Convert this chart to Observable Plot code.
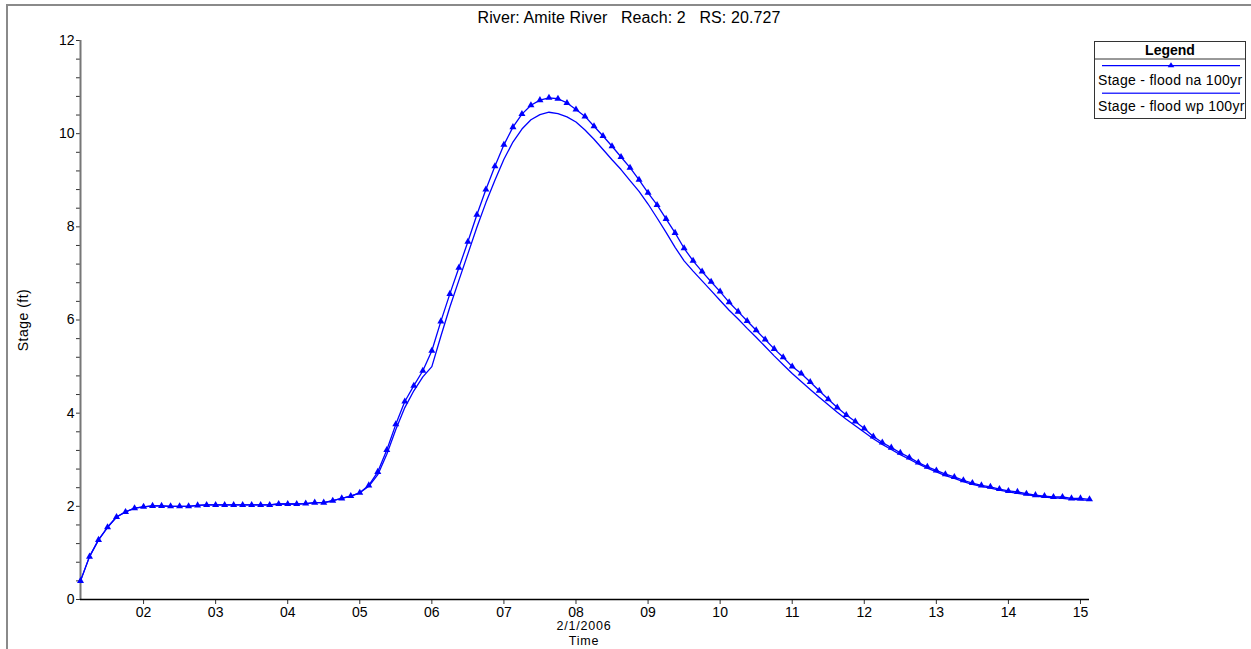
<!DOCTYPE html>
<html><head><meta charset="utf-8">
<script src="https://cdn.jsdelivr.net/npm/d3@7"></script>
<script src="https://cdn.jsdelivr.net/npm/@observablehq/plot@0.6"></script>
<style>
body{margin:0;background:#fff;font-family:"Liberation Sans",Arial,sans-serif;color:#000;}
#wrap{position:relative;width:1251px;height:649px;overflow:hidden;background:#fff;}
#frame{position:absolute;left:6px;top:4px;width:1300px;height:700px;border-top:2px solid #8a8a8a;border-left:2px solid #8a8a8a;}
#chart{position:absolute;left:0;top:0;}
#title{position:absolute;left:329px;width:600px;top:10px;text-align:center;font-size:16px;line-height:16px;letter-spacing:0.1px;white-space:pre;}
.xl{position:absolute;left:484px;width:200px;text-align:center;font-size:12.5px;line-height:14px;letter-spacing:0.8px;}
#ylab{position:absolute;left:23px;top:320px;font-size:14px;line-height:14px;letter-spacing:0.5px;white-space:pre;transform:translate(-50%,-50%) rotate(-90deg);}
#legend{position:absolute;left:1094px;top:41px;}
</style>
</head><body>
<div id="wrap">
  <div id="frame"></div>
  <div id="chart"></div>
  <div id="title">River: Amite River   Reach: 2   RS: 20.727</div>
  <div class="xl" style="top:619px">2/1/2006</div>
  <div class="xl" style="top:633.5px">Time</div>
  <div id="ylab">Stage (ft)</div>
  <svg id="legend" width="153" height="79" font-family="Liberation Sans, Arial, sans-serif">
    <defs><clipPath id="lc"><rect x="0" y="0" width="151" height="78"/></clipPath></defs>
    <rect x="0.5" y="0.5" width="151" height="77" fill="#fff" stroke="#333" stroke-width="1"/>
    <text x="76" y="13.5" text-anchor="middle" font-size="14" font-weight="bold">Legend</text>
    <line x1="0.5" x2="151.5" y1="18" y2="18" stroke="#333"/>
    <line x1="8" x2="146" y1="24.7" y2="24.7" stroke="#0000ff" stroke-width="1.3"/>
    <path d="M77,21.3 L80.3,26.3 L73.7,26.3 Z" fill="#0000ff"/>
    <g clip-path="url(#lc)">
      <text x="4" y="43.5" font-size="14" letter-spacing="0.3">Stage - flood na 100yr</text>
      <text x="4" y="70" font-size="14" letter-spacing="0.3">Stage - flood wp 100yr</text>
    </g>
    <line x1="8" x2="146" y1="52.3" y2="52.3" stroke="#0000ff" stroke-width="1.6" stroke-opacity="0.8"/>
  </svg>
</div>
<script>
// Stage (ft) every 3 hours starting 01Feb2006 03:00
const startTime = Date.UTC(2006, 1, 1, 3);
const stepHours = 3;
const stageNa = [
  0.40,0.92,1.28,1.55,1.77,1.88,1.96,1.99,2.01,2.01,
  2.00,2.00,2.00,2.02,2.03,2.03,2.03,2.03,2.03,2.03,
  2.03,2.03,2.05,2.05,2.05,2.06,2.08,2.08,2.12,2.17,
  2.22,2.29,2.45,2.74,3.21,3.76,4.25,4.59,4.91,5.34,
  5.97,6.56,7.12,7.68,8.26,8.80,9.30,9.76,10.14,10.42,
  10.61,10.72,10.77,10.75,10.66,10.52,10.37,10.16,9.95,9.73,
  9.50,9.27,9.01,8.73,8.47,8.17,7.87,7.54,7.27,7.04,
  6.82,6.61,6.38,6.18,5.98,5.78,5.58,5.38,5.20,5.00,
  4.85,4.67,4.48,4.30,4.12,3.96,3.82,3.67,3.50,3.37,
  3.26,3.15,3.05,2.94,2.85,2.77,2.69,2.63,2.56,2.50,
  2.45,2.42,2.37,2.33,2.31,2.27,2.24,2.22,2.20,2.20,
  2.17,2.17,2.15
];
const stageWp = [
  0.40,0.92,1.28,1.55,1.77,1.88,1.96,1.99,2.01,2.01,
  2.00,2.00,2.00,2.02,2.03,2.03,2.03,2.03,2.03,2.03,
  2.03,2.03,2.05,2.05,2.05,2.06,2.08,2.08,2.12,2.17,
  2.22,2.29,2.43,2.68,3.12,3.65,4.12,4.48,4.78,5.00,
  5.65,6.28,6.85,7.42,7.99,8.52,9.00,9.45,9.82,10.10,
  10.30,10.41,10.46,10.43,10.36,10.25,10.08,9.88,9.66,9.44,
  9.23,8.99,8.76,8.49,8.19,7.88,7.56,7.27,7.05,6.84,
  6.63,6.42,6.21,6.02,5.82,5.63,5.43,5.23,5.04,4.85,
  4.68,4.51,4.34,4.18,4.02,3.87,3.73,3.59,3.45,3.33,
  3.22,3.11,3.01,2.91,2.82,2.74,2.66,2.60,2.53,2.47,
  2.43,2.39,2.35,2.31,2.28,2.25,2.22,2.20,2.18,2.17,
  2.15,2.14,2.13
];
const yMajorTicks = [0, 2, 4, 6, 8, 10, 12];
const yMinorTicks = [0.4,0.8,1.2,1.6,2.4,2.8,3.2,3.6,4.4,4.8,5.2,5.6,6.4,6.8,7.2,7.6,8.4,8.8,9.2,9.6,10.4,10.8,11.2,11.6];
const xTickDays = [2,3,4,5,6,7,8,9,10,11,12,13,14,15];

const toRows = arr => arr.map((v, i) => ({t: new Date(startTime + i * stepHours * 3600e3), v}));
const na = toRows(stageNa);
const wp = toRows(stageWp);
const t0 = na[0].t, t1 = na[na.length - 1].t;
const xTicks = xTickDays.map(d => new Date(Date.UTC(2006, 1, d)));

const chart = Plot.plot({
  width: 1251, height: 649,
  marginLeft: 80, marginRight: 162, marginTop: 40, marginBottom: 50,
  style: {fontFamily: "Liberation Sans, Arial, sans-serif", fontSize: "14px", color: "#000", background: "transparent", overflow: "visible"},
  x: {type: "utc", domain: [t0, t1]},
  y: {domain: [0, 12]},
  marks: [
    Plot.axisY({ticks: yMajorTicks, tickSize: 4, tickPadding: 2, tickFormat: d => String(d), label: null, stroke: "#333"}),
    Plot.axisY({ticks: yMinorTicks, tickSize: 4, tickFormat: () => "", label: null, stroke: "#333"}),
    Plot.axisX({ticks: xTicks, tickSize: 5, tickPadding: 3, tickFormat: d3.utcFormat("%d"), label: null, stroke: "#333"}),
    Plot.ruleX([t0], {stroke: "#777", strokeWidth: 2}),
    Plot.ruleY([0], {stroke: "#000", strokeWidth: 1.5}),
    Plot.line(wp, {x: "t", y: "v", stroke: "#0000ff", strokeWidth: 1.3}),
    Plot.line(na, {x: "t", y: "v", stroke: "#0000ff", strokeWidth: 1.3}),
    Plot.dot(na, {x: "t", y: "v", symbol: "triangle", fill: "#0000ff", stroke: null, r: 2.6})
  ]
});
document.getElementById("chart").appendChild(chart);
</script>
</body></html>
